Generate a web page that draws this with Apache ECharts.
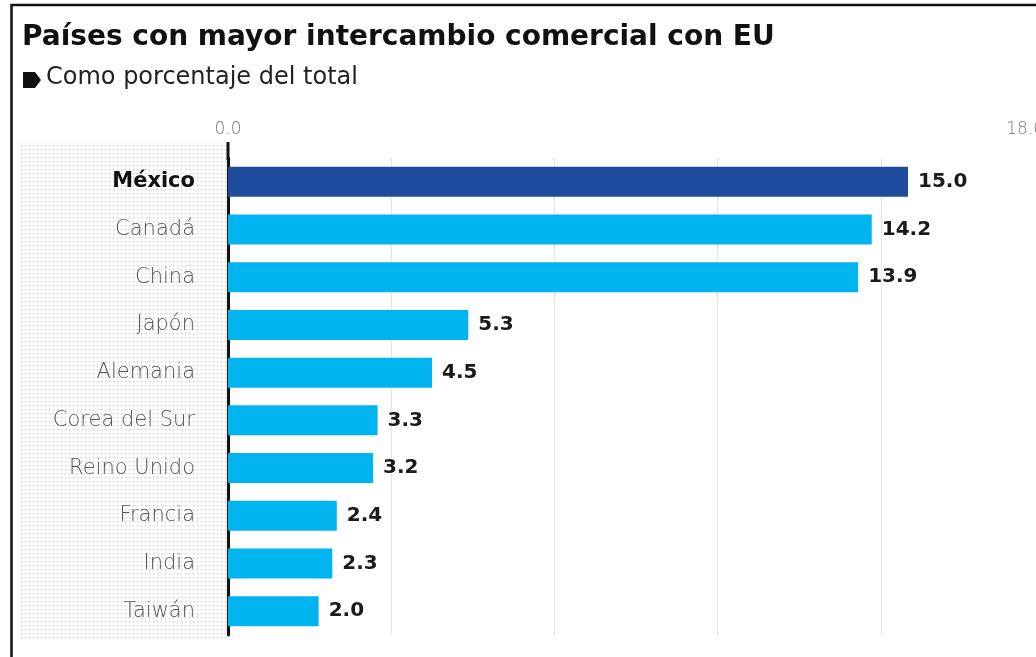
<!DOCTYPE html>
<html>
<head>
<meta charset="utf-8">
<script src="https://cdn.jsdelivr.net/npm/echarts@6/dist/echarts.min.js"></script>
<style>
html,body{margin:0;padding:0;background:#fff;overflow:hidden;width:1036px;height:657px;}
#c{width:1060px;height:657px;}
</style>
</head>
<body>
<div id="c"></div>
<script>
const categories = ['México','Canadá','China','Japón','Alemania','Corea del Sur','Reino Unido','Francia','India','Taiwán'];
const values = [15.0, 14.2, 13.9, 5.3, 4.5, 3.3, 3.2, 2.4, 2.3, 2.0];
const highlight = 'México';
const axisMin = 0, axisMax = 18, axisStep = 3.6;
const tickLabels = [0, 18];
const titleText = 'Países con mayor intercambio comercial con EU';
const subtitleText = 'Como porcentaje del total';

const FONT = '"DejaVu Sans", sans-serif';
const chart = echarts.init(document.getElementById('c'));

const pc = document.createElement('canvas');
pc.width = 4; pc.height = 4;
const pctx = pc.getContext('2d');
pctx.fillStyle = '#ffffff'; pctx.fillRect(0,0,4,4);
pctx.fillStyle = '#d0d0d0'; pctx.fillRect(1,1,1.4,1.4);

chart.setOption({
  animation: false,
  backgroundColor: '#fff',
  graphic: [
    { type: 'rect', z: -10, shape: { x: 20, y: 142, width: 208, height: 498 },
      style: { fill: { image: pc, repeat: 'repeat' } } },
    { type: 'rect', z: 100, shape: { x: 11.5, y: 5, width: 1100, height: 700 },
      style: { fill: 'none', stroke: '#111', lineWidth: 2.5 } },
    { type: 'line', z: 50, shape: { x1: 228, y1: 142, x2: 228, y2: 160 },
      style: { stroke: '#111', lineWidth: 3 } },
    { type: 'text', left: 22, top: 24,
      style: { text: titleText, font: 'bold 28px ' + FONT, fill: '#111' } },
    { type: 'polygon', shape: { points: [[23,72],[35,72],[41,80],[35,88],[23,88]] },
      style: { fill: '#111' } },
    { type: 'text', left: 46, top: 66,
      style: { text: subtitleText, font: '24px ' + FONT, fill: '#222' } }
  ],
  grid: { left: 228, right: 16, top: 158, bottom: 22, containLabel: false },
  xAxis: {
    type: 'value', position: 'top', min: axisMin, max: axisMax, interval: axisStep,
    axisLine: { show: false }, axisTick: { show: false },
    splitLine: { show: true, lineStyle: { color: '#e4e4e4', width: 1 } },
    axisLabel: {
      margin: 20, color: '#777', fontSize: 17, fontFamily: FONT, fontWeight: 300,
      alignMaxLabel: 'right',
      formatter: v => tickLabels.some(t => Math.abs(t - v) < 1e-6) ? v.toFixed(1) : ''
    }
  },
  yAxis: {
    type: 'category', data: categories, inverse: true,
    axisLine: { show: true, lineStyle: { color: '#111', width: 3 } },
    axisTick: { show: false },
    axisLabel: {
      margin: 33, fontSize: 21, fontFamily: FONT, fontWeight: 300, color: '#555',
      formatter: v => v === highlight ? '{b|' + v + '}' : v,
      rich: { b: { fontWeight: 'bold', color: '#111', fontSize: 21, fontFamily: FONT } }
    }
  },
  series: [{
    type: 'bar', barWidth: 30,
    data: values.map((v, i) => ({
      value: v,
      itemStyle: { color: categories[i] === highlight ? '#1e4b9c' : '#00b5ef' }
    })),
    label: {
      show: true, position: 'right', distance: 10,
      fontSize: 20, fontWeight: 'bold', color: '#1a1a1a', fontFamily: FONT,
      formatter: p => p.value.toFixed(1)
    }
  }]
});
</script>
</body>
</html>
